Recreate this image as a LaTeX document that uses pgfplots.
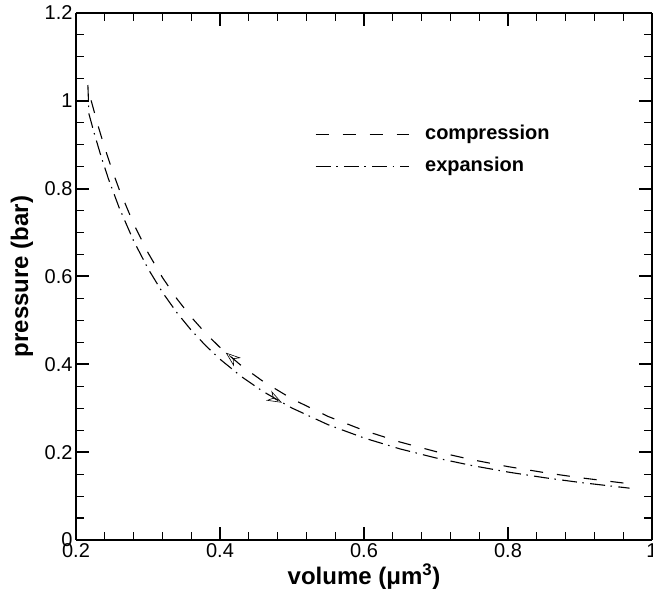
\documentclass[border=0pt]{standalone}
\usepackage{fontspec}
\setmainfont{Liberation Sans}
\usepackage{pgfplots}
\pgfplotsset{compat=1.18}
\usetikzlibrary{arrows.meta}

% pressure-volume paths of the bubble
\pgfplotstableread{
V      p
0.221  1.001
0.230  0.9467
0.240  0.8923
0.250  0.8431
0.260  0.7983
0.280  0.7202
0.300  0.6541
0.320  0.5979
0.340  0.5495
0.360  0.5076
0.380  0.4708
0.400  0.4384
0.430  0.3964
0.460  0.3609
0.500  0.3213
0.550  0.2814
0.600  0.2494
0.650  0.2231
0.700  0.2012
0.750  0.1828
0.800  0.1671
0.850  0.1536
0.900  0.1418
0.969  0.1280
}\compression

\pgfplotstableread{
V      p
0.2165 1.036
0.218  0.9701
0.225  0.9278
0.235  0.8725
0.245  0.8226
0.260  0.7564
0.280  0.6812
0.300  0.6180
0.320  0.5641
0.340  0.5179
0.360  0.4778
0.380  0.4427
0.400  0.4117
0.430  0.3717
0.460  0.3379
0.500  0.3004
0.550  0.2626
0.600  0.2323
0.650  0.2074
0.700  0.1868
0.750  0.1695
0.800  0.1547
0.850  0.1420
0.900  0.1310
0.969  0.1180
}\expansion

\tikzset{
  compdash/.style={dash pattern=on 13pt off 14pt},
  expdash/.style={dash pattern=on 15pt off 5.5pt on 1.5pt off 6.3pt},
  dirarrow/.style={solid, line width=0.6pt, -{Stealth[open, length=15pt, width=11pt, inset=5pt]}},
}

\begin{document}
\begin{tikzpicture}
\begin{axis}[
  at={(0pt,0pt)}, anchor=south west,
  scale only axis, width=576pt, height=527pt,
  xmin=0.2, xmax=1, ymin=0, ymax=1.2,
  xtick={0.2,0.4,0.6,0.8,1.0},
  ytick={0,0.2,0.4,0.6,0.8,1.0,1.2},
  /pgf/number format/assume math mode=true,
  /pgf/number format/fixed,
  minor x tick num=4, minor y tick num=3,
  tick align=inside,
  major tick length=13pt, minor tick length=8pt,
  major tick style={line width=2pt, black},
  minor tick style={line width=1.1pt, black},
  separate axis lines,
  axis line style={line width=2.5pt, black},
  every outer x axis line/.append style={line width=2.5pt},
  every outer y axis line/.append style={line width=2.5pt},
  xticklabel style={font=\fontsize{20}{24}\selectfont},
  yticklabel style={font=\fontsize{20}{24}\selectfont},
  xlabel={volume (μm\textsuperscript{3})},
  ylabel={pressure (bar)},
  label style={font=\bfseries\fontsize{24}{28}\selectfont},
  xlabel style={at={(axis description cs:0.5,0)}, anchor=base, yshift=-45pt},
  ylabel style={at={(axis description cs:0,0.5)}, anchor=center, yshift=54pt},
  legend cell align=left,
  legend image code/.code={\draw[#1] (0pt,0pt) -- (93pt,0pt);},
  legend style={draw=none, fill=none, at={(rel axis cs:0.415,0.787)}, anchor=north west,
    inner sep=0pt, outer sep=0pt, row sep=14pt, column sep=16pt,
    nodes={inner sep=0pt, text height=14pt, text depth=4pt,
      font=\bfseries\fontsize{20}{24}\selectfont}},
]
\addplot[black, line width=1.1pt, compdash] table[x=V, y=p] {\compression};
\addlegendentry{compression}
\addplot[black, line width=1.1pt, expdash] table[x=V, y=p] {\expansion};
\addlegendentry{expansion}
% direction of travel along each path
\addplot[dirarrow, forget plot] coordinates {(0.4125,0.4205) (0.408,0.4265)};
\addplot[dirarrow, forget plot] coordinates {(0.4805,0.3175) (0.486,0.3127)};
\end{axis}
\pgfresetboundingbox
\path (-76pt,-53pt) rectangle (577pt,540pt);
\end{tikzpicture}
\end{document}
